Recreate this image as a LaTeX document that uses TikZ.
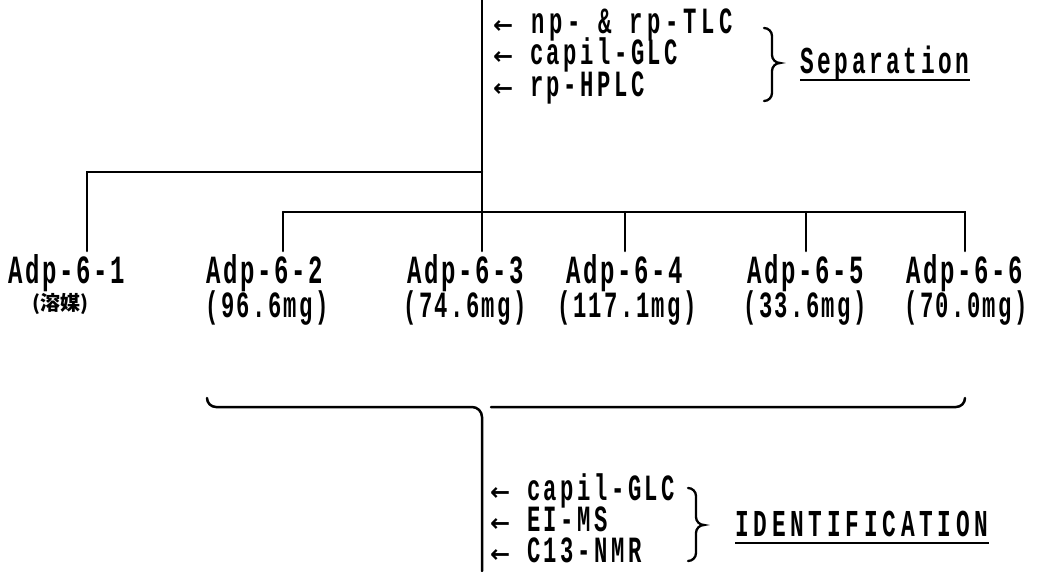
\documentclass[tikz,border=0pt]{standalone}
\usepackage{fontspec}
\newfontfamily\mono{Liberation Mono}[FakeStretch=0.6, LetterSpace=6.5]
\newfontfamily\monow{Liberation Mono}[FakeStretch=0.6, LetterSpace=9.5]
\newfontfamily\monowide{Liberation Mono}[FakeStretch=0.6, LetterSpace=12.5]
\newfontfamily\arrowfont{DejaVu Sans}
\newfontfamily\cjk{Noto Sans CJK JP}
\tikzset{
  ln/.style={line width=2.5pt, line cap=round},
  lab/.style={inner sep=0pt, outer sep=3pt, anchor=base, font=\mono\bfseries\fontsize{40}{42}\selectfont},
  sub/.style={inner sep=0pt, anchor=base, font=\mono\bfseries\fontsize{37}{40}\selectfont},
  meth/.style={inner sep=0pt, anchor=base west, text height=23pt, text depth=5pt, font=\monow\bfseries\fontsize{37}{40}\selectfont},
  ttl/.style={inner sep=0pt, anchor=base west, font=\monowide\bfseries\fontsize{38}{40}\selectfont},
  br/.style={line width=2.3pt, line cap=round}
}
\newcommand{\arr}{{\arrowfont\fontsize{24}{26}\selectfont ←}}
\begin{document}
\begin{tikzpicture}[x=1pt,y=-1pt]
\useasboundingbox (0,0) rectangle (1044,571);
% labels
\node[lab] (l1) at (67,283) {Adp-6-1};
\node[lab] (l2) at (265,283) {Adp-6-2};
\node[lab] (l3) at (466,283) {Adp-6-3};
\node[lab] (l4) at (625,283) {Adp-6-4};
\node[lab] (l5) at (806,283) {Adp-6-5};
\node[lab] (l6) at (965,283) {Adp-6-6};
\node[inner sep=0pt, anchor=base, font=\cjk\bfseries\fontsize{20}{22}\selectfont] (s1) at (60,310) {(溶媒)};
\node[sub] (s2) at (267,317) {(96.6mg)};
\node[sub] (s3) at (465,317) {(74.6mg)};
\node[sub] (s4) at (627,317) {(117.1mg)};
\node[sub] (s5) at (805,317) {(33.6mg)};
\node[sub] (s6) at (966,317) {(70.0mg)};
% tree
\coordinate (top) at (482,0);
\coordinate (j1) at (482,172);
\coordinate (e1) at (87,172);
\coordinate (e2) at (283,212);
\coordinate (e6) at (965,212);
\draw[ln] (top) -- (l3.north -| top);
\draw[ln] (j1) -- (e1) -- (l1.north -| e1);
\draw[ln] (e2) -- (e6) -- (l6.north -| e6);
\draw[ln] (e2) -- (l2.north -| e2);
\draw[ln] (l4.north) -- (l4.north |- e2);
\draw[ln] (l5.north) -- (l5.north |- e2);
% top methods
\node[meth, font=\monowide\bfseries\fontsize{37}{40}\selectfont] (m1) at (493,33) {\arr\ np- \& rp-TLC};
\node[meth] (m2) at (493,64) {\arr\ capil-GLC};
\node[meth] (m3) at (493,96) {\arr\ rp-HPLC};
\draw[br] (764,28) to[out=0,in=90] (772,36) -- (772,55) to[out=-90,in=180] (780,63) to[out=180,in=90] (772,71) -- (772,93) to[out=-90,in=0] (764,101);
\node[ttl, font=\monow\bfseries\fontsize{38}{40}\selectfont] (sep) at (800,73) {Separation};
\draw[line width=2pt] ([yshift=-7pt]sep.base west) -- ([yshift=-7pt]sep.base east);
% bottom bracket
\coordinate (bl) at (207,398);
\coordinate (br) at (965,398);
\coordinate (bot) at (482,571);
\draw[ln] (bl) to[out=-90,in=180] (216,407) -- (472,407) to[out=0,in=90] (482,417) -- (bot);
\draw[ln] (491,407) -- (956,407) to[out=0,in=-90] (br);
% bottom methods
\node[meth] (n1) at (490,500) {\arr\ capil-GLC};
\node[meth] (n2) at (490,531) {\arr\ EI-MS};
\node[meth] (n3) at (490,562) {\arr\ C13-NMR};
\draw[br] (688,488) to[out=0,in=90] (696,496) -- (696,517) to[out=-90,in=180] (704,525) to[out=180,in=90] (696,533) -- (696,553) to[out=-90,in=0] (688,561);
\node[ttl] (idf) at (735,536) {IDENTIFICATION};
\draw[line width=2pt] ([yshift=-7pt]idf.base west) -- ([yshift=-7pt]idf.base east);
\end{tikzpicture}
\end{document}
